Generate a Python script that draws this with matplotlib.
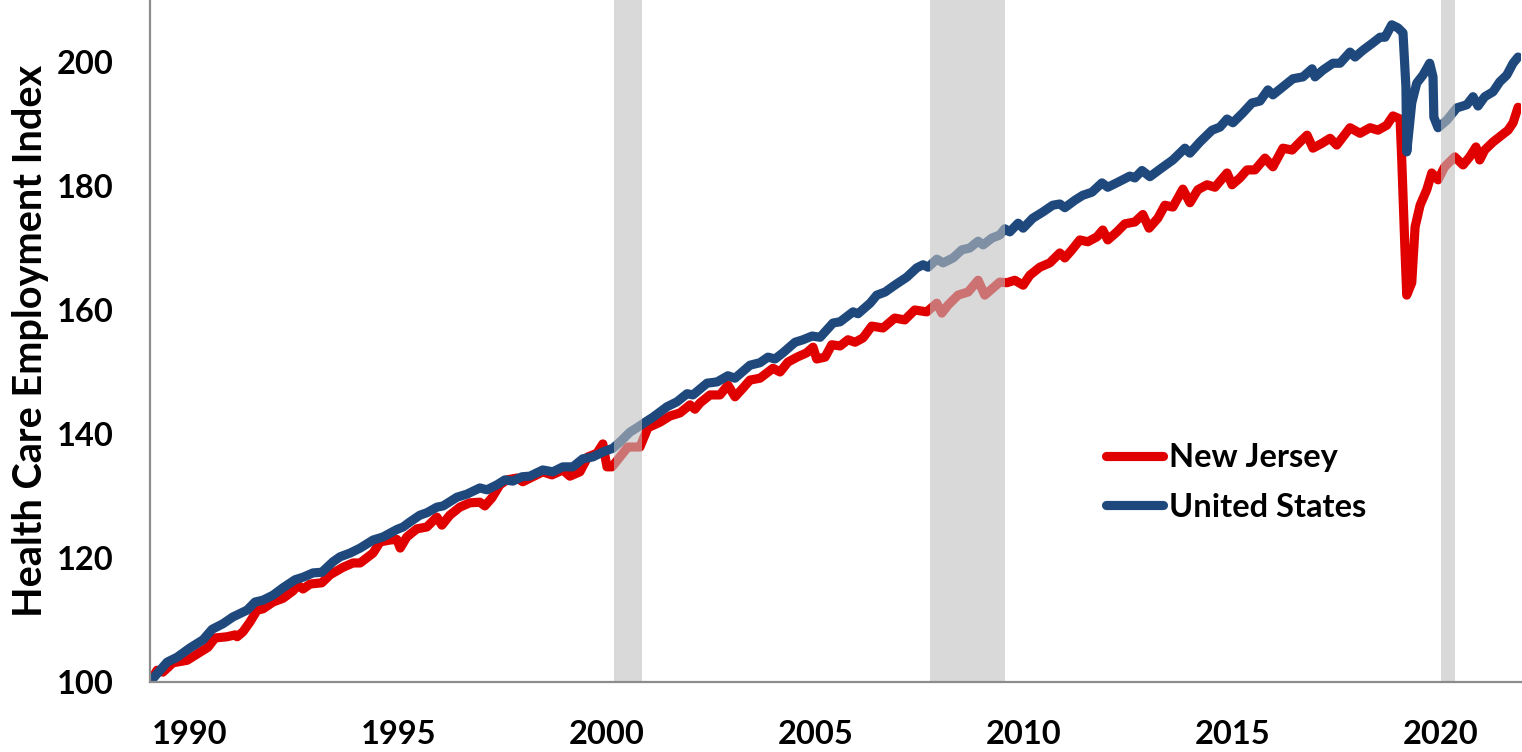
import matplotlib
matplotlib.use('Agg')
import matplotlib.pyplot as plt

# values (index, start = 100)
us_years = [1989.04, 1989.45, 1989.69, 1990.00, 1990.31, 1990.53, 1990.79, 1991.03, 1991.37, 1991.56,
            1991.75, 1991.99, 1992.23, 1992.52, 1992.71, 1992.95, 1993.16, 1993.43, 1993.60, 1993.84,
            1994.08, 1994.39, 1994.63, 1994.96, 1995.11, 1995.27, 1995.51, 1995.68, 1995.92, 1996.07,
            1996.40, 1996.64, 1996.95, 1997.12, 1997.36, 1997.55, 1997.74, 1997.96, 1998.15, 1998.46,
            1998.70, 1998.94, 1999.18, 1999.42, 1999.66, 1999.90, 2000.14, 2000.31, 2000.55, 2000.74,
            2000.96, 2001.10, 2001.44, 2001.68, 2001.92, 2002.06, 2002.40, 2002.64, 2002.90, 2003.07,
            2003.43, 2003.67, 2003.86, 2004.03, 2004.22, 2004.51, 2004.70, 2004.92, 2005.11, 2005.42,
            2005.59, 2005.90, 2006.02, 2006.31, 2006.47, 2006.67, 2006.90, 2007.19, 2007.43, 2007.58,
            2007.70, 2007.91, 2008.06, 2008.30, 2008.51, 2008.70, 2008.90, 2009.02, 2009.23, 2009.42,
            2009.54, 2009.66, 2009.86, 2009.98, 2010.21, 2010.45, 2010.69, 2010.86, 2010.98, 2011.22,
            2011.41, 2011.63, 2011.87, 2012.01, 2012.25, 2012.54, 2012.66, 2012.83, 2013.02, 2013.26,
            2013.57, 2013.86, 2013.98, 2014.22, 2014.51, 2014.70, 2014.87, 2015.01, 2015.25, 2015.47,
            2015.66, 2015.85, 2015.97, 2016.21, 2016.45, 2016.69, 2016.91, 2016.98, 2017.17, 2017.41,
            2017.58, 2017.82, 2017.94, 2018.13, 2018.37, 2018.54, 2018.66, 2018.82, 2018.97, 2019.09,
            2019.16, 2019.18, 2019.30, 2019.42, 2019.57, 2019.73, 2019.81, 2019.83, 2019.93, 2020.14,
            2020.38, 2020.62, 2020.77, 2020.89, 2021.05, 2021.25, 2021.41, 2021.58, 2021.73, 2021.85]
us_index = [100.0, 103.2, 104.0, 105.5, 106.8, 108.5, 109.4, 110.5, 111.6, 112.9,
            113.2, 114.0, 115.2, 116.5, 116.9, 117.6, 117.7, 119.4, 120.2, 120.8,
            121.6, 122.9, 123.4, 124.6, 125.0, 125.8, 126.9, 127.3, 128.2, 128.4,
            129.8, 130.3, 131.3, 131.0, 131.8, 132.6, 132.4, 133.1, 133.2, 134.2,
            133.9, 134.7, 134.7, 136.0, 136.3, 137.1, 137.7, 138.7, 140.3, 141.1,
            142.1, 142.7, 144.4, 145.2, 146.5, 146.3, 148.2, 148.4, 149.4, 149.0,
            151.1, 151.5, 152.4, 152.1, 153.1, 154.8, 155.2, 155.8, 155.6, 157.9,
            158.1, 159.7, 159.4, 161.1, 162.4, 162.9, 164.0, 165.3, 166.8, 167.3,
            166.9, 168.2, 167.6, 168.4, 169.7, 170.0, 171.1, 170.5, 171.6, 172.1,
            173.1, 172.6, 174.0, 173.2, 174.8, 175.8, 176.9, 177.1, 176.5, 177.7,
            178.5, 179.0, 180.5, 179.8, 180.6, 181.6, 181.3, 182.5, 181.5, 182.7,
            184.2, 186.1, 185.3, 187.1, 189.0, 189.5, 190.8, 190.2, 191.8, 193.4,
            193.7, 195.5, 194.7, 196.0, 197.3, 197.6, 198.9, 197.6, 198.7, 199.8,
            199.8, 201.6, 200.8, 201.9, 203.1, 204.0, 204.0, 206.0, 205.5, 204.7,
            196.0, 185.5, 193.4, 196.6, 197.9, 199.8, 197.6, 191.1, 189.4, 190.6,
            192.6, 193.1, 194.4, 192.9, 194.4, 195.2, 196.8, 197.9, 199.8, 200.8]

nj_years = [1989.04, 1989.21, 1989.35, 1989.59, 1989.93, 1990.24, 1990.43, 1990.60, 1990.89, 1991.08,
            1991.13, 1991.27, 1991.44, 1991.61, 1991.75, 1991.99, 1992.23, 1992.47, 1992.59, 1992.71,
            1992.88, 1993.16, 1993.36, 1993.67, 1993.91, 1994.08, 1994.39, 1994.56, 1994.80, 1994.96,
            1995.04, 1995.20, 1995.44, 1995.68, 1995.92, 1996.04, 1996.23, 1996.47, 1996.71, 1996.95,
            1997.07, 1997.24, 1997.43, 1997.60, 1997.84, 1997.98, 1998.22, 1998.46, 1998.68, 1998.94,
            1999.11, 1999.35, 1999.54, 1999.76, 1999.90, 2000.00, 2000.12, 2000.31, 2000.50, 2000.79,
            2000.98, 2001.27, 2001.51, 2001.75, 2001.99, 2002.11, 2002.23, 2002.47, 2002.71, 2002.90,
            2003.07, 2003.26, 2003.43, 2003.67, 2003.98, 2004.15, 2004.34, 2004.56, 2004.79, 2004.94,
            2005.03, 2005.23, 2005.39, 2005.59, 2005.78, 2005.95, 2006.14, 2006.35, 2006.62, 2006.90,
            2007.14, 2007.38, 2007.67, 2007.91, 2008.03, 2008.18, 2008.42, 2008.66, 2008.90, 2009.06,
            2009.25, 2009.42, 2009.59, 2009.78, 2009.98, 2010.14, 2010.38, 2010.62, 2010.86, 2010.98,
            2011.15, 2011.34, 2011.53, 2011.75, 2011.89, 2012.01, 2012.23, 2012.42, 2012.66, 2012.85,
            2013.00, 2013.21, 2013.38, 2013.57, 2013.81, 2013.98, 2014.17, 2014.39, 2014.58, 2014.87,
            2014.99, 2015.18, 2015.35, 2015.54, 2015.78, 2015.97, 2016.21, 2016.43, 2016.62, 2016.79,
            2016.93, 2017.15, 2017.34, 2017.50, 2017.82, 2018.06, 2018.30, 2018.49, 2018.70, 2018.85,
            2019.02, 2019.06, 2019.14, 2019.18, 2019.30, 2019.38, 2019.50, 2019.66, 2019.78, 2019.93,
            2020.09, 2020.33, 2020.53, 2020.69, 2020.84, 2020.93, 2021.05, 2021.25, 2021.46, 2021.61,
            2021.73, 2021.85]
nj_index = [100.0, 101.9, 101.6, 103.1, 103.5, 104.8, 105.6, 107.1, 107.3, 107.6,
            107.3, 108.1, 109.7, 111.6, 111.8, 112.9, 113.5, 114.7, 115.6, 115.0,
            115.8, 116.0, 117.3, 118.5, 119.2, 119.2, 120.8, 122.6, 122.9, 123.0,
            121.6, 123.4, 124.7, 125.0, 126.6, 125.3, 126.9, 128.2, 128.9, 129.0,
            128.4, 129.7, 131.8, 132.6, 132.9, 132.3, 133.1, 133.9, 133.4, 134.2,
            133.2, 133.9, 136.3, 136.9, 138.4, 134.7, 134.7, 136.3, 137.9, 137.9,
            141.0, 141.9, 142.9, 143.4, 144.7, 144.0, 145.0, 146.3, 146.3, 147.9,
            146.0, 147.4, 148.7, 149.0, 150.6, 150.0, 151.6, 152.4, 153.1, 154.0,
            152.1, 152.4, 154.4, 154.2, 155.2, 154.8, 155.5, 157.4, 157.1, 158.7,
            158.4, 160.0, 159.7, 161.1, 159.5, 160.8, 162.4, 162.9, 164.8, 162.4,
            163.5, 164.5, 164.4, 164.8, 164.0, 165.6, 166.9, 167.6, 169.2, 168.4,
            169.7, 171.3, 171.0, 171.8, 172.9, 171.3, 172.6, 173.9, 174.2, 175.4,
            173.2, 174.8, 176.9, 176.6, 179.5, 177.3, 179.4, 180.2, 179.8, 182.1,
            180.2, 181.3, 182.6, 182.6, 184.5, 183.1, 186.1, 185.8, 187.1, 188.2,
            186.1, 186.9, 187.7, 186.6, 189.4, 188.5, 189.4, 189.0, 189.8, 191.3,
            190.8, 184.2, 169.2, 162.4, 164.4, 173.4, 176.9, 179.4, 182.1, 181.0,
            183.1, 184.7, 183.4, 184.7, 186.3, 184.2, 185.8, 187.1, 188.2, 189.0,
            190.2, 192.7]

# recession shading (start, end)
recessions = [(2000.17, 2000.84), (2007.74, 2009.54), (2020.00, 2020.33)]

tick_years = [1990, 1995, 2000, 2005, 2010, 2015, 2020]

plt.rcParams['font.family'] = ['Lato', 'DejaVu Sans']
plt.rcParams['font.weight'] = 'bold'

fig = plt.figure(figsize=(15.22, 7.52), dpi=100)
ax = fig.add_axes([150 / 1522, 70 / 752, 1371 / 1522, 682 / 752])

ax.plot(nj_years, nj_index, color='#E00000', lw=6.6, solid_capstyle='round',
        solid_joinstyle='round', label='New Jersey', zorder=2)
ax.plot(us_years, us_index, color='#1F497D', lw=6.6, solid_capstyle='round',
        solid_joinstyle='round', label='United States', zorder=3)

for start, end in recessions:
    ax.axvspan(start, end, color='#C0C0C0', alpha=0.6, lw=0, zorder=4)

ax.set_xlim(1989.04, 2021.92)
ax.set_ylim(100, 210)
ax.set_yticks([100, 120, 140, 160, 180, 200])
ax.set_xticks(tick_years)
ax.set_xticklabels([str(y) for y in tick_years])

for side in ['top', 'right']:
    ax.spines[side].set_visible(False)
for side in ['left', 'bottom']:
    ax.spines[side].set_color('#8C8C8C')
    ax.spines[side].set_linewidth(1.6)
    ax.spines[side].set_zorder(5)

ax.tick_params(axis='both', length=0, labelsize=23.5)
ax.tick_params(axis='x', pad=27)
ax.tick_params(axis='y', pad=26)
for lab in ax.get_xticklabels() + ax.get_yticklabels():
    lab.set_fontweight('bold')

ax.set_ylabel('Health Care Employment Index', fontsize=28.5, fontweight='bold')
ax.yaxis.set_label_coords(-0.074, 0.5)

leg = ax.legend(loc='center left', bbox_to_anchor=(0.6975, 0.2925), frameon=False,
                fontsize=23.5, handlelength=1.75, handletextpad=0.18, labelspacing=0.62,
                borderpad=0, borderaxespad=0)
for t in leg.get_texts():
    t.set_fontweight('bold')

fig.savefig('out.png', dpi=100)
